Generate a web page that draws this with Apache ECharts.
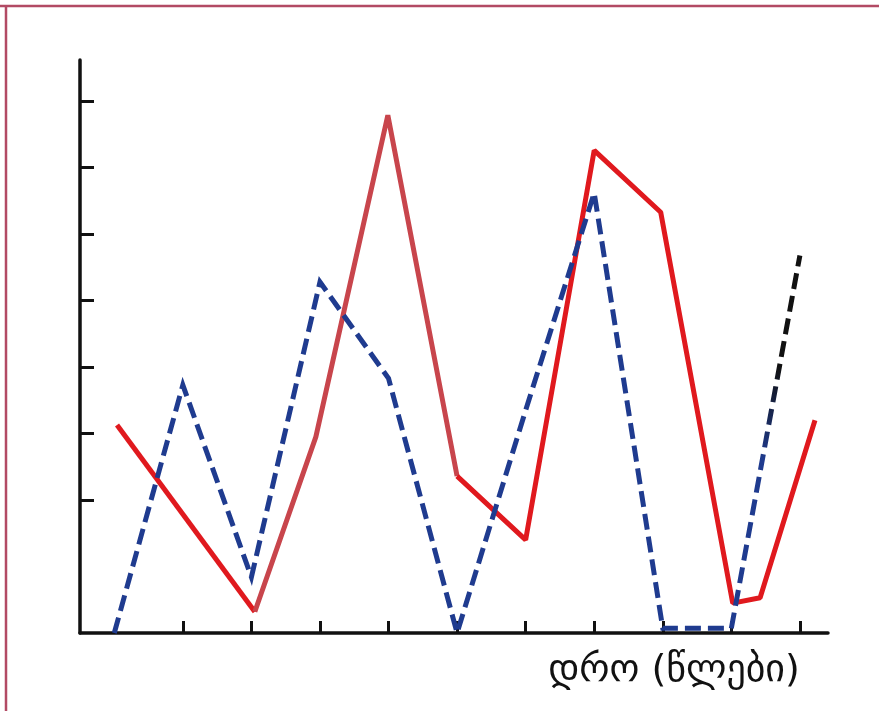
<!DOCTYPE html>
<html>
<head>
<meta charset="utf-8">
<script src="https://cdn.jsdelivr.net/npm/echarts@6/dist/echarts.min.js"></script>
<style>
html,body{margin:0;padding:0;background:#fff;}
#c{width:879px;height:711px;}
</style>
</head>
<body>
<div id="c"></div>
<script>
// x positions are in "year tick" units (tick 1..10), y in value units
var xTicks = [1, 2, 3, 4, 5, 6, 7, 8, 9, 10];
var yTicks = [2, 3, 4, 5, 6, 7, 8];
var axisTitle = 'დრო (წლები)';

var blueX = [0, 1, 2, 3, 4, 5, 6, 7, 8, 9];
var blueY = [0, 3.73, 0.84, 5.28, 3.83, 0, 3.35, 6.62, 0.07, 0.07];
var blueTailX = [9, 10];
var blueTailY = [0.07, 5.68];

var redStartX = [0.04, 2.05];
var redStartY = [3.13, 0.32];
var redMidX = [2.05, 2.94, 3.99, 5.0];
var redMidY = [0.32, 2.95, 7.79, 2.36];
var redEndX = [5.0, 6.0, 7.0, 7.97, 9.02, 9.42, 10.22];
var redEndY = [2.36, 1.40, 7.26, 6.33, 0.45, 0.53, 3.2];

function pairs(xs, ys){ return xs.map(function(x,i){ return [x, ys[i]]; }); }

var chart = echarts.init(document.getElementById('c'));
var dashPattern = [16,7];
chart.setOption({
  animation:false,
  backgroundColor:'#fff',
  grid:{left:80, right:51, top:60, bottom:78},
  xAxis:{
    type:'value', min:-0.5, max:10.41,
    splitLine:{show:false},
    axisLine:{show:true, onZero:false, lineStyle:{color:'#111', width:3.5}},
    axisTick:{show:true, inside:true, length:12, customValues:xTicks, lineStyle:{color:'#111', width:3}},
    axisLabel:{show:false}
  },
  yAxis:{
    type:'value', min:0, max:8.62,
    splitLine:{show:false},
    axisLine:{show:true, onZero:false, lineStyle:{color:'#111', width:3.5}},
    axisTick:{show:true, inside:true, length:14, customValues:yTicks, lineStyle:{color:'#111', width:3}},
    axisLabel:{show:false}
  },
  graphic:[
    {type:'line', shape:{x1:0,y1:6,x2:879,y2:6}, style:{stroke:'#b24a64', lineWidth:2.5}, z:100},
    {type:'line', shape:{x1:6,y1:6,x2:6,y2:711}, style:{stroke:'#b24a64', lineWidth:2.5}, z:100},
    {type:'text', x:674, y:671, style:{text:axisTitle, font:'500 38px "DejaVu Sans"', fill:'#111', align:'center', verticalAlign:'middle'}}
  ],
  series:[
    {type:'line', data:pairs(blueX, blueY), symbol:'none',
     lineStyle:{color:'#1f3b8f', width:5, type:dashPattern, join:'miter'}, z:3},
    {type:'line', data:pairs(blueTailX, blueTailY), symbol:'none',
     lineStyle:{width:5, type:dashPattern,
       color:{type:'linear', x:0, y:1, x2:0, y2:0, colorStops:[{offset:0,color:'#1f3b8f'},{offset:0.45,color:'#1f3b8f'},{offset:0.7,color:'#111'},{offset:1,color:'#111'}]}}, z:3},
    {type:'line', data:pairs(redStartX, redStartY), symbol:'none',
     lineStyle:{color:'#e0191e', width:5}, z:2},
    {type:'line', data:pairs(redMidX, redMidY), symbol:'none',
     lineStyle:{color:'#c8454c', width:5}, z:2},
    {type:'line', data:pairs(redEndX, redEndY), symbol:'none',
     lineStyle:{color:'#e0191e', width:5}, z:2}
  ]
});
</script>
</body>
</html>
